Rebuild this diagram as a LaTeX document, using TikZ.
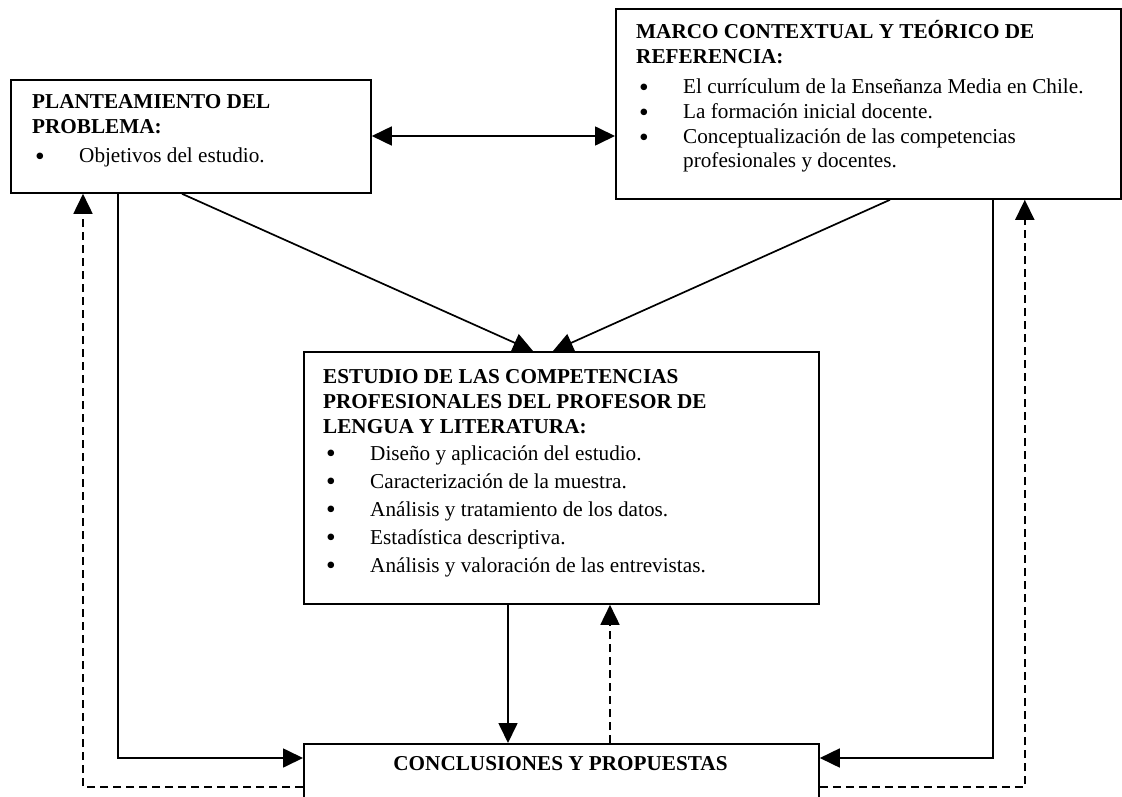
\documentclass[tikz,border=0pt]{standalone}
\usepackage{fontspec}
\setmainfont{Liberation Serif}
\usetikzlibrary{arrows.meta}
\newcommand\itm[1]{\makebox[47pt][l]{\hspace{3pt}\raisebox{-2.2pt}{\scalebox{1.3}{\textbullet}}}#1}
\begin{document}
\begin{tikzpicture}[x=1pt,y=-1pt,
  boxshape/.style={draw,line width=1.8pt,rectangle,anchor=north west,inner sep=0pt},
  txt/.style={anchor=base west,inner sep=0pt,font=\fontsize{21.2}{25}\selectfont},
  arr/.style={line width=1.7pt,-{Triangle[length=20pt,width=19pt]}},
  darr/.style={arr,dash pattern=on 8pt off 5pt},
  both/.style={line width=1.7pt,{Triangle[length=20pt,width=19pt]}-{Triangle[length=20pt,width=19pt]}}]
\useasboundingbox (0,0) rectangle (1122,797);
\clip (0,0) rectangle (1122,797);
% boxes
\node[boxshape,minimum width=360pt,minimum height=113pt] (p) at (10,79) {};
\node[boxshape,minimum width=505pt,minimum height=190pt] (m) at (615,8) {};
\node[boxshape,minimum width=515pt,minimum height=252pt] (e) at (303,351) {};
\node[boxshape,minimum width=515pt,minimum height=80pt] (c) at (303,743) {};
% texts
\node[txt] (pt) at (32,109) {\begin{tabular}[t]{@{}l@{}}
\textbf{PLANTEAMIENTO DEL}\\
\textbf{PROBLEMA:}\\[4pt]
\itm{Objetivos del estudio.}
\end{tabular}};
\node[txt] (mt) at (636,39) {\begin{tabular}[t]{@{}l@{}}
\textbf{MARCO CONTEXTUAL Y TEÓRICO DE}\\
\textbf{REFERENCIA:}\\[5pt]
\itm{El currículum de la Enseñanza Media en Chile.}\\
\itm{La formación inicial docente.}\\
\itm{Conceptualización de las competencias}\\[-1pt]
\hspace*{47pt}profesionales y docentes.
\end{tabular}};
\node[txt] (et) at (323,383) {\begin{tabular}[t]{@{}l@{}}
\textbf{ESTUDIO DE LAS COMPETENCIAS}\\
\textbf{PROFESIONALES DEL PROFESOR DE}\\
\textbf{LENGUA Y LITERATURA:}\\[2pt]
\itm{Diseño y aplicación del estudio.}\\[3pt]
\itm{Caracterización de la muestra.}\\[3pt]
\itm{Análisis y tratamiento de los datos.}\\[3pt]
\itm{Estadística descriptiva.}\\[3pt]
\itm{Análisis y valoración de las entrevistas.}
\end{tabular}};
\node[txt,anchor=base] (ct) at (560.5,770) {\textbf{CONCLUSIONES Y PROPUESTAS}};
% connectors
\draw[both] (p.east |- 0,136) -- (m.west |- 0,136);
\draw[arr] ([xshift=172pt]p.south west) -- ([xshift=230pt]e.north west);
\draw[arr] ([xshift=275pt]m.south west) -- ([xshift=250pt]e.north west);
\draw[arr] ([xshift=108pt]p.south west) |- ([yshift=-15pt]c.north west);
\draw[darr] ([yshift=-44pt]c.north west) -| ([xshift=73pt]p.south west);
\draw[arr] ([xshift=-129pt]m.south east) |- ([yshift=-15pt]c.north east);
\draw[darr] ([yshift=-44pt]c.north east) -| ([xshift=-97pt]m.south east);
\draw[arr] ([xshift=205pt]e.south west) -- ([xshift=205pt]c.north west);
\draw[darr] ([xshift=307pt]c.north west) -- ([xshift=307pt]e.south west);
\end{tikzpicture}
\end{document}
